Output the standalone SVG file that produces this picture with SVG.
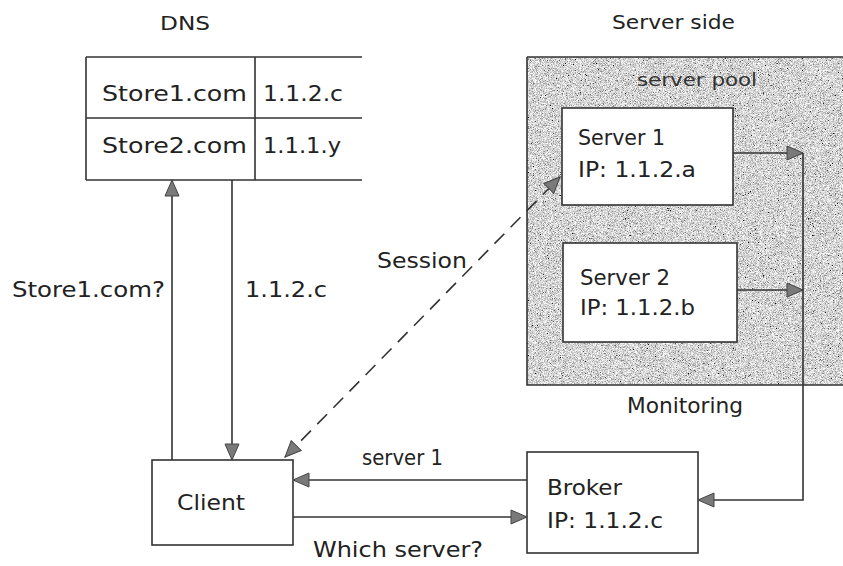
<svg xmlns="http://www.w3.org/2000/svg" width="843" height="566" viewBox="0 0 843 566">
  <style>
    text { font-family: "DejaVu Sans", "Liberation Sans", sans-serif; font-size: 21px; fill: #222; }
    .title { font-size: 19px; }
    .pool-label { font-size: 18px; fill: #333; }
    .box { fill: #fff; stroke: #333; stroke-width: 1.6; }
    .line { fill: none; stroke: #333; stroke-width: 1.6; }
    .dash { fill: none; stroke: #333; stroke-width: 1.6; stroke-dasharray: 14 9; }
  </style>
  <defs>
    <marker id="arrow" viewBox="0 0 18 16" refX="17" refY="8" markerWidth="18" markerHeight="16" markerUnits="userSpaceOnUse" orient="auto-start-reverse">
      <path d="M1,1 L17,8 L1,15 Z" fill="#7a7a7a" stroke="#444" stroke-width="1"/>
    </marker>
    <filter id="grain" x="0" y="0" width="100%" height="100%" filterUnits="objectBoundingBox">
      <feTurbulence type="fractalNoise" baseFrequency="1.4" numOctaves="1" seed="7"/>
      <feColorMatrix type="matrix" values="0.33 0.33 0.33 0 0  0.33 0.33 0.33 0 0  0.33 0.33 0.33 0 0  0 0 0 0 1"/>
      <feComponentTransfer>
        <feFuncR type="linear" slope="3.6" intercept="-1.12"/>
        <feFuncG type="linear" slope="3.6" intercept="-1.12"/>
        <feFuncB type="linear" slope="3.6" intercept="-1.12"/>
      </feComponentTransfer>
    </filter>
  </defs>

  <rect width="843" height="566" fill="#fff"/>

  <!-- headings -->
  <text class="title" x="160" y="30" textLength="50" lengthAdjust="spacingAndGlyphs">DNS</text>
  <text class="title" x="612" y="29" textLength="123" lengthAdjust="spacingAndGlyphs">Server side</text>

  <!-- DNS lookup table -->
  <g id="dns">
    <path class="line" d="M86,57 H362 M86,118 H362 M86,180 H362 M86,57 V180 M255,57 V180"/>
    <text x="102" y="101" textLength="145" lengthAdjust="spacingAndGlyphs">Store1.com</text>
    <text x="263" y="101" textLength="80" lengthAdjust="spacingAndGlyphs">1.1.2.c</text>
    <text x="102" y="153" textLength="145" lengthAdjust="spacingAndGlyphs">Store2.com</text>
    <text x="263" y="153" textLength="78" lengthAdjust="spacingAndGlyphs">1.1.1.y</text>
  </g>

  <!-- shaded server pool -->
  <g id="server-pool">
    <rect x="527" y="57" width="316" height="328" filter="url(#grain)"/>
    <path class="line" d="M527,57 H843 M527,57 V385 H843"/>
    <text class="pool-label" x="637" y="86" textLength="120" lengthAdjust="spacingAndGlyphs">server pool</text>
  </g>

  <g id="server1">
    <rect class="box" x="562" y="108" width="171" height="97"/>
    <text x="578" y="145" textLength="87" lengthAdjust="spacingAndGlyphs">Server 1</text>
    <text x="578" y="177" textLength="118" lengthAdjust="spacingAndGlyphs">IP: 1.1.2.a</text>
  </g>

  <g id="server2">
    <rect class="box" x="563" y="243" width="174" height="99"/>
    <text x="580" y="285" textLength="90" lengthAdjust="spacingAndGlyphs">Server 2</text>
    <text x="580" y="315" textLength="115" lengthAdjust="spacingAndGlyphs">IP: 1.1.2.b</text>
  </g>

  <g id="client">
    <rect class="box" x="152" y="460" width="141" height="85"/>
    <text x="177" y="510" textLength="68" lengthAdjust="spacingAndGlyphs">Client</text>
  </g>

  <g id="broker">
    <rect class="box" x="527" y="452" width="171" height="101"/>
    <text x="547" y="495" textLength="75" lengthAdjust="spacingAndGlyphs">Broker</text>
    <text x="547" y="528" textLength="116" lengthAdjust="spacingAndGlyphs">IP: 1.1.2.c</text>
  </g>

  <!-- connectors -->
  <g id="connectors">
    <path class="line" d="M172,460 V180" marker-end="url(#arrow)"/>
    <path class="line" d="M232,180 V460" marker-end="url(#arrow)"/>
    <path class="dash" d="M285,457 L560,177" marker-start="url(#arrow)" marker-end="url(#arrow)"/>
    <path class="line" d="M733,153 H803" marker-end="url(#arrow)"/>
    <path class="line" d="M737,290 H803" marker-end="url(#arrow)"/>
    <path class="line" d="M803,153 V500 H698" marker-end="url(#arrow)"/>
    <path class="line" d="M527,480 H293" marker-end="url(#arrow)"/>
    <path class="line" d="M293,517 H527" marker-end="url(#arrow)"/>
  </g>

  <!-- connector labels -->
  <g id="labels">
    <text x="12" y="297" textLength="153" lengthAdjust="spacingAndGlyphs">Store1.com?</text>
    <text x="245" y="297" textLength="82" lengthAdjust="spacingAndGlyphs">1.1.2.c</text>
    <text x="377" y="268" textLength="90" lengthAdjust="spacingAndGlyphs">Session</text>
    <text x="627" y="413" textLength="116" lengthAdjust="spacingAndGlyphs">Monitoring</text>
    <text x="362" y="465" textLength="81" lengthAdjust="spacingAndGlyphs">server 1</text>
    <text x="313" y="557" textLength="170" lengthAdjust="spacingAndGlyphs">Which server?</text>
  </g>
</svg>
